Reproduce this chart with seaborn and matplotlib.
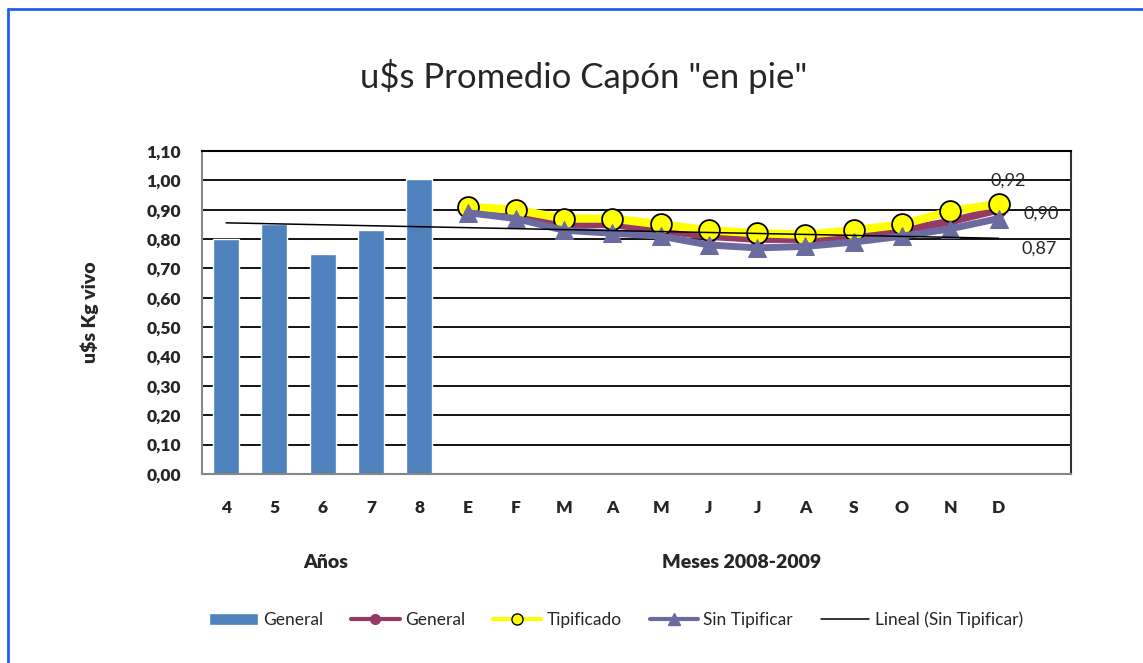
import numpy as np
import pandas as pd
import seaborn as sns
import matplotlib.pyplot as plt
from matplotlib.lines import Line2D
from matplotlib.patches import Patch

# Data
years = ["4", "5", "6", "7", "8"]
bar_general = [0.80, 0.85, 0.75, 0.83, 1.005]

months = ["E", "F", "M", "A", "M", "J", "J", "A", "S", "O", "N", "D"]
general = [0.90, 0.89, 0.85, 0.85, 0.83, 0.81, 0.80, 0.80, 0.81, 0.83, 0.86, 0.90]
tipificado = [0.91, 0.90, 0.87, 0.87, 0.85, 0.83, 0.82, 0.815, 0.83, 0.85, 0.895, 0.92]
sin_tipificar = [0.89, 0.87, 0.83, 0.82, 0.81, 0.78, 0.77, 0.775, 0.79, 0.81, 0.835, 0.87]

labels = years + months
x_bars = np.arange(len(years))
x_months = np.arange(len(years), len(labels))

sns.set_style("white")
plt.rcParams['font.family'] = ['Lato', 'DejaVu Sans']

fig = plt.figure(figsize=(11.43, 6.63), dpi=100)
ax = fig.add_axes([202 / 1143, 1 - 474 / 663, 869 / 1143, 323 / 663])

c_bar = "#4F81BD"
c_gen = "#953A64"
c_tip = "#FFFF00"
c_sin = "#6B6BA0"

bars = pd.DataFrame({"x": x_bars, "y": bar_general})
sns.barplot(data=bars, x="x", y="y", native_scale=True, width=0.54,
            color=c_bar, saturation=1, ax=ax, zorder=2)

sns.lineplot(x=x_months, y=general, color=c_gen, lw=5.5, marker="o",
             markersize=10, markeredgecolor=c_gen, ax=ax, zorder=3)
sns.lineplot(x=x_months, y=tipificado, color=c_tip, lw=6, marker="o",
             markersize=15, markeredgecolor="black", markeredgewidth=1.3,
             ax=ax, zorder=4)
sns.lineplot(x=x_months, y=sin_tipificar, color=c_sin, lw=5, marker="^",
             markersize=13, markeredgecolor=c_sin, ax=ax, zorder=5)

# linear trend of Sin Tipificar (Excel style, over category index)
coef = np.polyfit(x_months, sin_tipificar, 1)
xt = np.array([0, len(labels) - 1])
ax.plot(xt, np.polyval(coef, xt), color="black", lw=1.1, zorder=6)

# data labels for the last month
ax.annotate("0,92", (x_months[-1], tipificado[-1]), xytext=(7, 17),
            textcoords="offset points", ha="center", va="center", fontsize=13)
ax.annotate("0,90", (x_months[-1], general[-1]), xytext=(31, -3),
            textcoords="offset points", ha="center", va="center", fontsize=13)
ax.annotate("0,87", (x_months[-1], sin_tipificar[-1]), xytext=(29, -22),
            textcoords="offset points", ha="center", va="center", fontsize=13)

ax.set_xlim(-0.5, len(labels) + 0.5)
ax.set_ylim(0, 1.10)
ax.set_xticks(range(len(labels)))
ax.set_xticklabels(labels, fontweight="heavy", fontsize=12.5)
yt = np.round(np.arange(0, 1.101, 0.1), 2)
ax.set_yticks(yt)
ax.set_yticklabels([f"{v:.2f}".replace(".", ",") for v in yt],
                   fontweight="heavy", fontsize=12.5)
ax.tick_params(axis="y", length=0, pad=15)
ax.tick_params(axis="x", length=0, pad=19)
ax.yaxis.grid(True, color="black", lw=1.3)
ax.set_axisbelow(True)
ax.set_xlabel("")
ax.set_ylabel("u$s Kg vivo", fontweight="heavy", fontsize=14, labelpad=34)
for s in ax.spines.values():
    s.set_color("#868686")
    s.set_linewidth(1.5)
ax.spines["top"].set_color("black")
ax.spines["right"].set_color("#333333")

fig.text(584 / 1143, 1 - 76 / 663, 'u$s Promedio Capón "en pie"',
         ha="center", va="center", fontsize=25)
fig.text(326 / 1143, 1 - 563 / 663, "Años", ha="center", va="center",
         fontweight="heavy", fontsize=14)
fig.text(742 / 1143, 1 - 563 / 663, "Meses 2008-2009", ha="center",
         va="center", fontweight="heavy", fontsize=14)

handles = [
    Patch(facecolor=c_bar),
    Line2D([], [], color=c_gen, lw=3, marker="o", markersize=7),
    Line2D([], [], color=c_tip, lw=3, marker="o", markersize=8,
           markeredgecolor="black"),
    Line2D([], [], color=c_sin, lw=3, marker="^", markersize=8),
    Line2D([], [], color="black", lw=1.1),
]
fig.legend(handles, ["General", "General", "Tipificado", "Sin Tipificar",
                     "Lineal (Sin Tipificar)"],
           loc="center", bbox_to_anchor=(616 / 1143, 1 - 620 / 663), ncol=5,
           frameon=False, fontsize=12.5, handlelength=2.8, columnspacing=1.6,
           handletextpad=0.3)

# chart frame (only top and left edges fall inside the picture)
bx, by = 7.5 / 1143, 1 - 8.5 / 663
fig.add_artist(Line2D([bx, 1], [by, by], transform=fig.transFigure,
                      color="#2060EA", lw=2))
fig.add_artist(Line2D([bx, bx], [0, by], transform=fig.transFigure,
                      color="#2060EA", lw=2))

fig.savefig("out.png", dpi=100)
